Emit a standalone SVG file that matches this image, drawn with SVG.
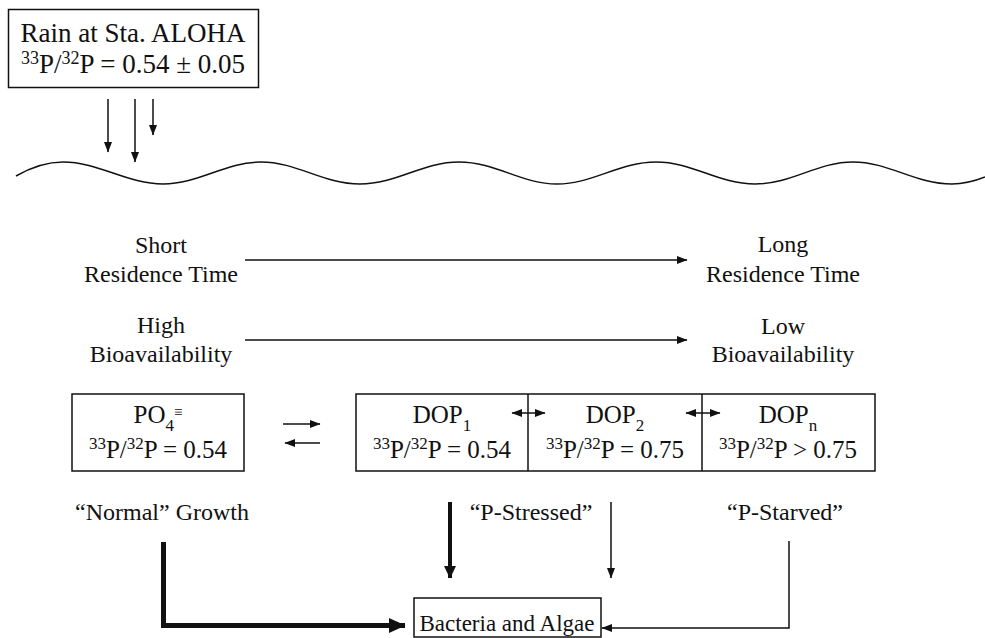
<svg xmlns="http://www.w3.org/2000/svg" width="985" height="638" viewBox="0 0 985 638">
<style>
text{font-family:"Liberation Serif","Times New Roman",serif;fill:#111;}
.t24{font-size:24px;text-anchor:middle;}
.t25{font-size:25px;text-anchor:middle;}
.box{fill:#fff;stroke:#111;stroke-width:1.5;}
.ln{fill:none;stroke:#111;stroke-width:1.5;}
.thick{fill:none;stroke:#111;stroke-width:5;}
.med{fill:none;stroke:#111;stroke-width:4;}
</style>
<defs>
<marker id="ah" markerUnits="userSpaceOnUse" markerWidth="11" markerHeight="9" refX="10" refY="4.5" orient="auto-start-reverse" viewBox="0 0 11 9">
<path d="M0,0.5 L10.5,4.5 L0,8.5 z" fill="#111"/>
</marker>
<marker id="ahT" markerUnits="userSpaceOnUse" markerWidth="17" markerHeight="16" refX="16" refY="8" orient="auto" viewBox="0 0 17 16">
<path d="M0,0.5 L16.5,8 L0,15.5 z" fill="#111"/>
</marker>
<marker id="ahM" markerUnits="userSpaceOnUse" markerWidth="13" markerHeight="13" refX="12" refY="6.5" orient="auto" viewBox="0 0 13 13">
<path d="M0,0.5 L12.5,6.5 L0,12.5 z" fill="#111"/>
</marker>
</defs>

<g id="rain">
<rect class="box" x="8.5" y="9.5" width="250" height="78"/>
<text x="133" y="42" style="font-size:27px;text-anchor:middle">Rain at Sta. ALOHA</text>
<text x="133" y="73" style="font-size:27px;text-anchor:middle"><tspan font-size="18" dy="-9">33</tspan><tspan dy="9">P/</tspan><tspan font-size="18" dy="-9">32</tspan><tspan dy="9">P = 0.54 ± 0.05</tspan></text>
</g>

<g id="sea-surface">
<path class="ln" d="M16,176 C30,168 45,162 63,162 C99,162 127,184 163,184 S225,162 261,162 S323,184 360,184 S422,162 459,162 S521,184 557,184 S619,162 656,162 S718,184 755,184 S817,162 853,162 S915,184 952,184 C966,184 975,181 985,177"/>
</g>

<g id="short-residence">
<text class="t24" x="161" y="253">Short</text>
<text class="t24" x="161" y="282">Residence Time</text>
</g>
<g id="long-residence">
<text class="t24" x="783" y="252">Long</text>
<text class="t24" x="783" y="282">Residence Time</text>
</g>
<g id="high-bio">
<text class="t24" x="161" y="333">High</text>
<text class="t24" x="161" y="362">Bioavailability</text>
</g>
<g id="low-bio">
<text class="t24" x="783" y="334">Low</text>
<text class="t24" x="783" y="362">Bioavailability</text>
</g>

<g id="po4">
<rect class="box" x="72" y="394" width="172" height="77"/>
<text x="158" y="423" style="font-size:25px;text-anchor:middle">PO<tspan font-size="17" dy="8">4</tspan><tspan font-size="15" dy="-14">≡</tspan></text>
<text class="t25" x="158" y="458"><tspan font-size="17" dy="-9">33</tspan><tspan dy="9">P/</tspan><tspan font-size="17" dy="-9">32</tspan><tspan dy="9">P = 0.54</tspan></text>
</g>

<g id="dop">
<rect class="box" x="356" y="394" width="519" height="77"/>
<line class="ln" x1="528" y1="394" x2="528" y2="471"/>
<line class="ln" x1="702" y1="394" x2="702" y2="471"/>
</g>
<g id="dop1">
<text class="t25" x="442" y="423">DOP<tspan font-size="17" dy="8">1</tspan></text>
<text class="t25" x="442" y="458"><tspan font-size="17" dy="-9">33</tspan><tspan dy="9">P/</tspan><tspan font-size="17" dy="-9">32</tspan><tspan dy="9">P = 0.54</tspan></text>
</g>
<g id="dop2">
<text class="t25" x="615" y="423">DOP<tspan font-size="17" dy="8">2</tspan></text>
<text class="t25" x="615" y="458"><tspan font-size="17" dy="-9">33</tspan><tspan dy="9">P/</tspan><tspan font-size="17" dy="-9">32</tspan><tspan dy="9">P = 0.75</tspan></text>
</g>
<g id="dopn">
<text class="t25" x="788" y="423">DOP<tspan font-size="17" dy="8">n</tspan></text>
<text class="t25" x="788" y="458"><tspan font-size="17" dy="-9">33</tspan><tspan dy="9">P/</tspan><tspan font-size="17" dy="-9">32</tspan><tspan dy="9">P &gt; 0.75</tspan></text>
</g>

<g id="labels">
<text class="t24" x="162" y="520">“Normal” Growth</text>
<text class="t24" x="531" y="520">“P-Stressed”</text>
<text class="t24" x="785" y="520">“P-Starved”</text>
</g>

<g id="bacteria">
<rect class="box" x="414" y="598" width="187" height="39"/>
<text x="507" y="631" style="font-size:23px;text-anchor:middle">Bacteria and Algae</text>
</g>

<g id="connectors">
<line class="ln" x1="108" y1="99" x2="108" y2="152" marker-end="url(#ah)"/>
<line class="ln" x1="135" y1="99" x2="135" y2="162" marker-end="url(#ah)"/>
<line class="ln" x1="153" y1="99" x2="153" y2="135" marker-end="url(#ah)"/>
<line class="ln" x1="245" y1="260" x2="687" y2="260" marker-end="url(#ah)"/>
<line class="ln" x1="245" y1="340" x2="687" y2="340" marker-end="url(#ah)"/>
<line class="ln" x1="283" y1="424" x2="320" y2="424" marker-end="url(#ah)"/>
<line class="ln" x1="320" y1="443" x2="285" y2="443" marker-end="url(#ah)"/>
<line class="ln" x1="512" y1="413" x2="545" y2="413" marker-start="url(#ah)" marker-end="url(#ah)"/>
<line class="ln" x1="686" y1="413" x2="720" y2="413" marker-start="url(#ah)" marker-end="url(#ah)"/>
<path class="thick" d="M163.5,542 V625.5 H405" marker-end="url(#ahT)"/>
<line class="med" x1="450" y1="502" x2="450" y2="578" marker-end="url(#ahM)"/>
<line class="ln" x1="611" y1="502" x2="611" y2="578" marker-end="url(#ah)"/>
<path class="ln" d="M789,541 V628 H602" marker-end="url(#ah)"/>
</g>
</svg>
